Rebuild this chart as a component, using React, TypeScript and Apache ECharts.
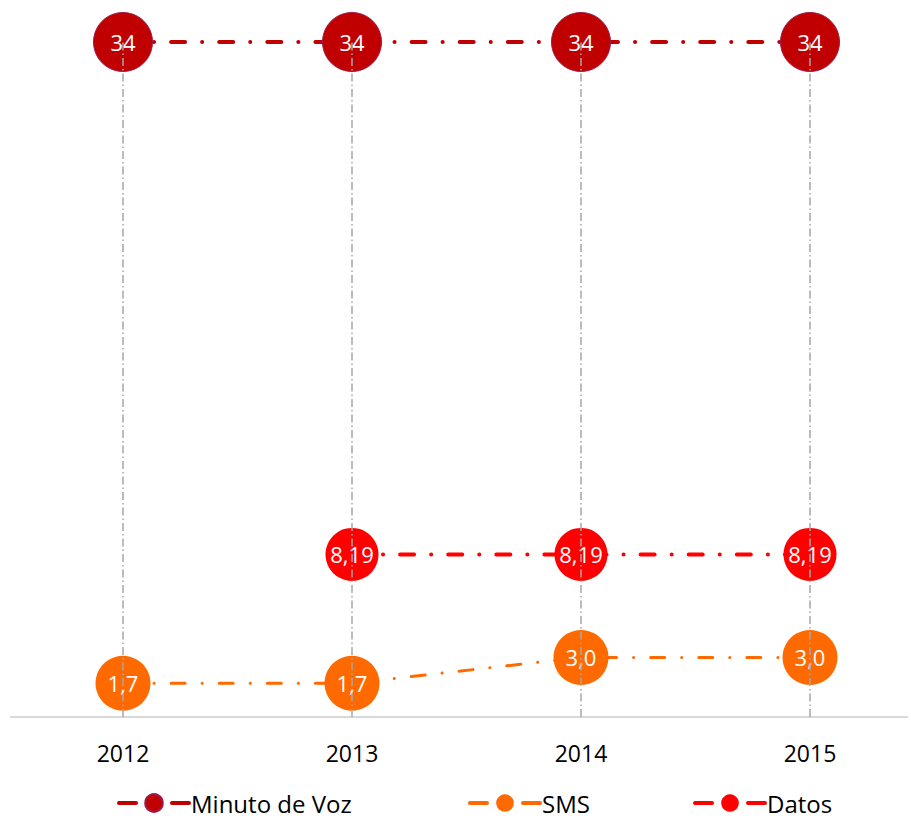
import React, { useEffect, useRef } from "react";
import * as echarts from "echarts";

const years = ["2012", "2013", "2014", "2015"];
const vozValues = [34, 34, 34, 34];
const smsValues = [1.7, 1.7, 3.0, 3.0];
const datosValues = [null, 8.19, 8.19, 8.19];
const seriesNames = ["Minuto de Voz", "SMS", "Datos"];

const FONT = "Open Sans";

function fmt(v: number, d: number) {
  return v.toFixed(d).replace(".", ",");
}

export default function App() {
  const ref = useRef<HTMLDivElement>(null);
  useEffect(() => {
    if (!ref.current) return;
    const chart = echarts.init(ref.current, null, { renderer: "svg" });
    const dashDot = [14, 17, 0.1, 17];
    const mkSeries = (name: string, data: any[], color: string, size: number, dec: number, width: number, border?: string) => ({
      name,
      type: "line",
      data,
      z: 3,
      symbol: "circle",
      symbolSize: size,
      connectNulls: false,
      lineStyle: { color, width, type: dashDot, cap: "round" },
      itemStyle: { color, borderColor: border || color, borderWidth: border ? 1 : 0 },
      label: {
        show: true,
        position: "inside",
        color: "#ffffff",
        fontFamily: FONT,
        fontSize: 22,
        formatter: (p: any) => fmt(p.value, dec),
      },
    });
    const legendLefts = [117, 468, 693];
    const legends = seriesNames.map((n, i) => ({
      left: legendLefts[i],
      top: 791,
      padding: 0,
      itemWidth: 70,
      itemHeight: 22,
      lineStyle: { width: 4, type: [17, 36, 17], cap: "round" },
      textStyle: { fontFamily: FONT, fontSize: 24, color: "#000", lineHeight: 22, padding: [0, 0, 0, -3] },
      data: [n],
    }));
    chart.setOption({
      animation: false,
      backgroundColor: "#ffffff",
      grid: { left: 123, right: 101, top: 42, bottom: 102 },
      legend: legends,
      xAxis: {
        type: "category",
        data: years,
        boundaryGap: false,
        axisLine: { show: false },
        axisTick: { show: false },
        axisLabel: { color: "#000", fontFamily: FONT, fontSize: 23, margin: 24 },
        splitLine: { show: false },
      },
      yAxis: { type: "value", min: 0, max: 34, show: false, splitLine: { show: false } },
      graphic: [
        {
          type: "line",
          shape: { x1: 10, y1: 717, x2: 908, y2: 717 },
          style: { stroke: "#d9d9d9", lineWidth: 2 },
        },
      ],
      series: [
        mkSeries(seriesNames[0], vozValues, "#c00000", 59, 0, 4, "#9e1a4a"),
        mkSeries(seriesNames[1], smsValues, "#ff6a00", 55, 1, 3),
        mkSeries(seriesNames[2], datosValues, "#ff0000", 53, 2, 4),
        {
          name: "grid-lines",
          type: "line",
          data: [],
          z: 10,
          silent: true,
          markLine: {
            silent: true,
            symbol: "none",
            label: { show: false },
            lineStyle: { color: "#a6a6a6", width: 1.5, type: [8, 3, 1.5, 3] },
            data: years.map((y) => ({ xAxis: y })),
          },
        },
      ],
    });
    return () => chart.dispose();
  }, []);
  return <div ref={ref} style={{ position: "fixed", left: 0, top: 0, width: 911, height: 819 }} />;
}
